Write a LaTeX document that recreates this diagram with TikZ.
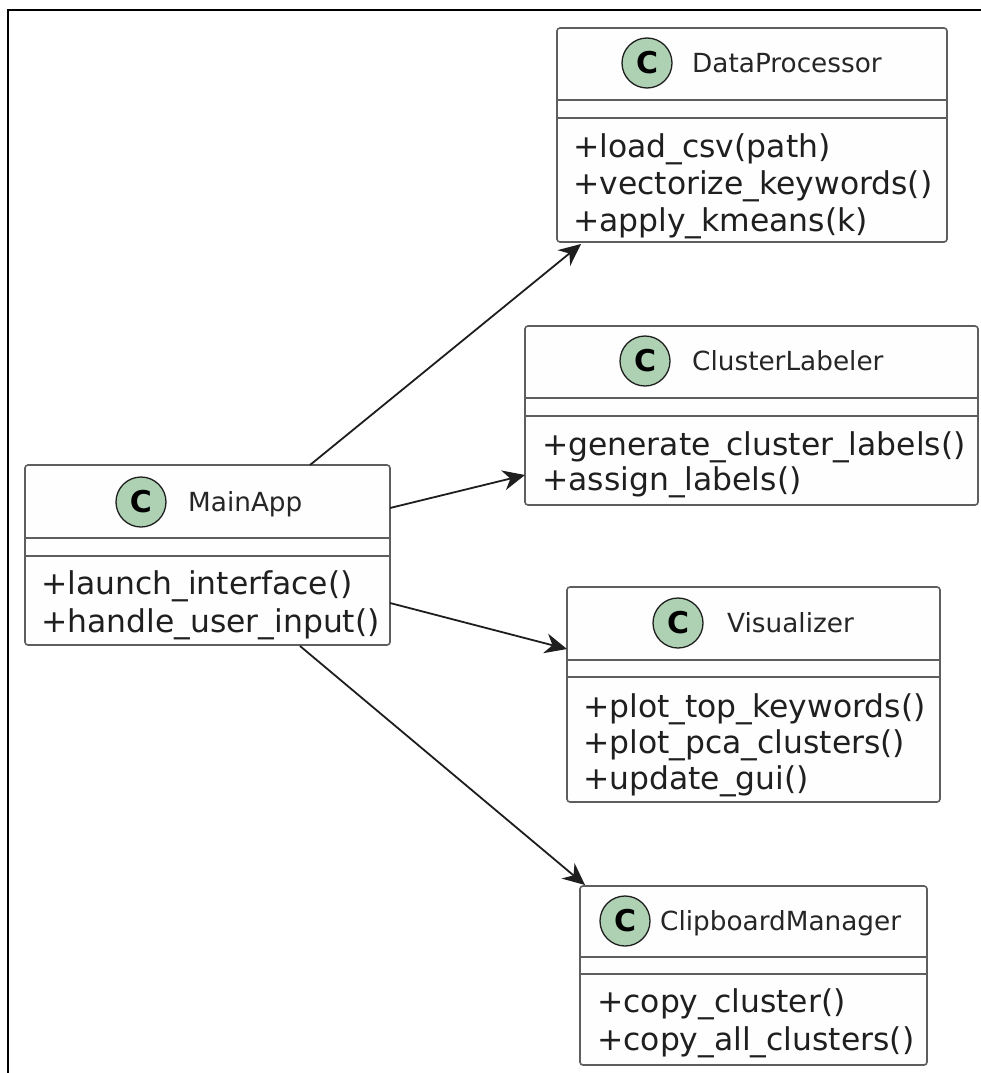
\documentclass[tikz,border=0pt]{standalone}
\usepackage{fontspec}
\setmainfont{DejaVu Sans}
\usetikzlibrary{arrows.meta,calc}
\definecolor{boxline}{HTML}{5E5E5E}
\definecolor{boxfill}{HTML}{FEFEFE}
\definecolor{cfill}{HTML}{ADD1B2}
\definecolor{arrowcol}{HTML}{1E1E1E}
\tikzset{
  classbox/.style={draw=boxline, line width=1.6pt, fill=boxfill, rounded corners=3pt, inner sep=0pt, outer sep=0pt, anchor=north west},
  sepline/.style={draw=boxline, line width=1.6pt},
  cbadge/.style={circle, draw=arrowcol, line width=1.3pt, fill=cfill, minimum size=50pt, inner sep=0pt, font=\fontsize{30}{30}\selectfont\bfseries},
  cname/.style={anchor=base west, inner sep=0pt, text=black!85, font=\fontsize{26.3}{30}\selectfont},
  member/.style={anchor=base west, inner sep=0pt, text=black!88, font=\fontsize{31.4}{37}\selectfont},
  assoc/.style={draw=arrowcol, line width=1.8pt, -{Stealth[length=22pt,width=20pt,inset=7pt]}},
  frame/.style={draw=black, line width=2.2pt}
}
\begin{document}
\begin{tikzpicture}[x=1pt,y=-1pt]
\useasboundingbox (0,0) rectangle (981,1073);
\fill[white] (0,0) rectangle (981,1073);
% outer frame (top and left only visible)
\coordinate (ftr) at (981,10);
\coordinate (ftl) at (8,10);
\coordinate (fbl) at (8,1073);
\draw[frame] (ftr) -- (ftl) -- (fbl);

% ---------- DataProcessor ----------
\node[classbox, minimum width=390pt, minimum height=214pt] (dp) at (557,28) {};
\draw[sepline] ($(dp.north west)+(0,72)$) -- ($(dp.north east)+(0,72)$);
\draw[sepline] ($(dp.north west)+(0,90)$) -- ($(dp.north east)+(0,90)$);
\node[cbadge] (dpc) at (647,63) {C};
\node[cname] (dpn) at (692,72) {DataProcessor};
\node[member] (dpm1) at (573,157) {+load\_csv(path)};
\node[member] (dpm2) at (573,194) {+vectorize\_keywords()};
\node[member] (dpm3) at (573,231) {+apply\_kmeans(k)};

% ---------- ClusterLabeler ----------
\node[classbox, minimum width=453pt, minimum height=179pt] (cl) at (525,326) {};
\draw[sepline] ($(cl.north west)+(0,72)$) -- ($(cl.north east)+(0,72)$);
\draw[sepline] ($(cl.north west)+(0,90)$) -- ($(cl.north east)+(0,90)$);
\node[cbadge] (clc) at (645,361) {C};
\node[cname] (cln) at (692,370) {ClusterLabeler};
\node[member] (clm1) at (542,455) {+generate\_cluster\_labels()};
\node[member] (clm2) at (542,490) {+assign\_labels()};

% ---------- MainApp ----------
\node[classbox, minimum width=365pt, minimum height=180pt] (main) at (25,465) {};
\draw[sepline] ($(main.north west)+(0,73)$) -- ($(main.north east)+(0,73)$);
\draw[sepline] ($(main.north west)+(0,91)$) -- ($(main.north east)+(0,91)$);
\node[cbadge] (mainc) at (141,502) {C};
\node[cname] (mainn) at (188,511) {MainApp};
\node[member] (mainm1) at (41,594) {+launch\_interface()};
\node[member] (mainm2) at (41,632) {+handle\_user\_input()};

% ---------- Visualizer ----------
\node[classbox, minimum width=373pt, minimum height=215pt] (vis) at (567,587) {};
\draw[sepline] ($(vis.north west)+(0,73)$) -- ($(vis.north east)+(0,73)$);
\draw[sepline] ($(vis.north west)+(0,90)$) -- ($(vis.north east)+(0,90)$);
\node[cbadge] (visc) at (678,623) {C};
\node[cname] (visn) at (727,632) {Visualizer};
\node[member] (vism1) at (583,717) {+plot\_top\_keywords()};
\node[member] (vism2) at (583,753) {+plot\_pca\_clusters()};
\node[member] (vism3) at (583,789) {+update\_gui()};

% ---------- ClipboardManager ----------
\node[classbox, minimum width=347pt, minimum height=179pt] (clip) at (580,886) {};
\draw[sepline] ($(clip.north west)+(0,71)$) -- ($(clip.north east)+(0,71)$);
\draw[sepline] ($(clip.north west)+(0,88)$) -- ($(clip.north east)+(0,88)$);
\node[cbadge] (clipc) at (625,921) {C};
\node[cname] (clipn) at (660,930) {ClipboardManager};
\node[member] (clipm1) at (597,1012) {+copy\_cluster()};
\node[member] (clipm2) at (597,1050) {+copy\_all\_clusters()};

% ---------- associations ----------
\draw[assoc] ($(main.north west)+(285,0)$) -- ($(dp.south west)+(24,2)$);
\draw[assoc] ($(main.north east)+(0,43)$) -- ($(cl.north west)+(0,149)$);
\draw[assoc] ($(main.north east)+(0,138)$) -- ($(vis.north west)+(0,62)$);
\draw[assoc] ($(main.south west)+(275,1)$) -- ($(clip.north west)+(5,-1)$);
\end{tikzpicture}
\end{document}
